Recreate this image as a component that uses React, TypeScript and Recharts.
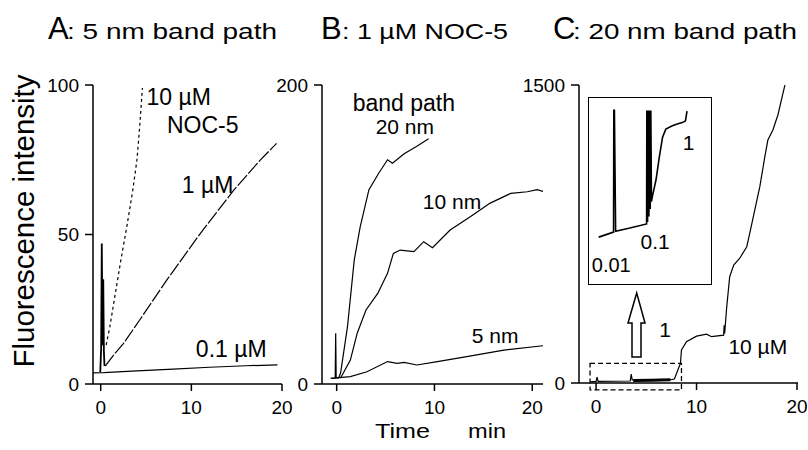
import React from "react";
import { LineChart, Line, XAxis, YAxis, ReferenceDot, ReferenceArea } from "recharts";

const FONT = "'Liberation Sans', Arial, Helvetica, sans-serif";

// ---- panel A: 5 nm band path (time in min, fluorescence a.u.)
const aTicksX = [0, 10, 20];
const aTicksY = [0, 50, 100];
const aTime01 = [-0.85, 0.3, 4, 8, 12, 16, 19.5];
const aVal01 = [3.7, 3.8, 4.4, 5.0, 5.6, 6.1, 6.4];
const aTime1 = [0.5, 1.0, 1.6, 2.5, 4.3, 7.3, 11, 14.7, 17.6, 19.4];
const aVal1 = [6, 8, 10.3, 13.5, 21.4, 34.8, 50.4, 64.9, 74.9, 80.5];
const aTime10 = [0.6, 1.0, 1.6, 2.2, 2.9, 3.5, 4.0, 4.3, 4.6];
const aVal10 = [13, 19, 30, 41, 53, 64, 75, 86, 99];
const aTimeSpike = [-0.05, 0.05, 0.12, 0.2, 0.28, 0.35, 0.42];
const aValSpike = [4, 12, 47, 13, 35, 11, 6];

// ---- panel B: 1 uM NOC-5, three band paths
const bTicksX = [0, 10, 20];
const bTicksY = [0, 200];
const bTime20 = [-0.6, -0.15, -0.1, -0.05, 0.2, 0.4, 1.1, 1.8, 2.4, 3.3, 4.3, 5.2, 5.7, 6.9, 8.2, 9.4];
const bVal20 = [3.8, 4, 34, 4, 4, 7.3, 38, 83, 105, 130, 141, 150, 147.6, 154, 159, 164];
const bTime10 = [0.4, 1.4, 2.1, 3.0, 4.2, 5.2, 5.8, 6.5, 7.9, 8.9, 9.8, 11.6, 13.7, 15.7, 17.8, 19.5, 20.5, 21.2];
const bVal10 = [4, 16, 34, 49.5, 60.6, 74, 87.4, 89.6, 88.5, 95.2, 91.2, 103, 112, 121, 127.5, 128.6, 130, 128.6];
const bTime5 = [-0.6, 1.4, 3.1, 5.2, 6.2, 6.9, 8.2, 10.3, 13.3, 17.1, 21.1];
const bVal5 = [3.8, 4.9, 8.2, 15, 13.8, 14.5, 12.7, 15, 18.3, 22.7, 25.6];

// ---- panel C: 20 nm band path, stepwise NOC-5
const cTicksX = [0, 10, 20];
const cTicksY = [0, 1500];
const cTime = [-0.5, 0, 0.1, 0.2, 3.4, 3.5, 3.6, 7.3, 7.8, 8.1, 8.4, 8.5, 9.0, 10.0, 11.0, 11.5, 12.7, 12.75, 12.8, 13.0, 13.3, 13.7, 14.3, 15.0, 15.3, 15.8, 16.3, 16.8, 17.1, 17.6, 18.1, 18.6, 18.8];
const cVal = [7, 7, 30, 8, 10, 45, 15, 15, 20, 60, 99, 166, 208, 236, 246, 233, 241, 290, 250, 380, 535, 594, 628, 686, 754, 871, 988, 1139, 1223, 1274, 1349, 1458, 1500];
const cTimeBase = [3.7, 5.5, 7.4];
const cValBase = [12, 14, 16];

// inset (its own 0-100 units)
const insetX = [8, 20.3, 20.5, 21.0, 22, 33.8, 47.6, 47.8, 48.4, 48.9, 49.5, 50.0, 50.6, 51.1, 51.6, 52.7, 55.4, 58.1, 60.8, 63.5, 68.9, 72.9, 77, 79.7, 81];
const insetY = [24.8, 27.5, 93.3, 93.3, 28, 29.7, 31.9, 93.3, 33, 93.3, 36, 93.3, 40, 93.3, 44, 47.8, 55.8, 68.1, 78.8, 83.2, 85, 85.9, 86.7, 87.6, 92.9];

const pts = (t: number[], v: number[]) => t.map((x, i) => ({ t: x, v: v[i] }));

type Series = { data: { t: number; v: number }[]; dash?: string; width?: number };
type Note = { t: number; v: number; text: string; size?: number };

const aSeries: Series[] = [
  { data: pts(aTime01, aVal01) },
  { data: pts(aTime1, aVal1), dash: "14 2" },
  { data: pts(aTime10, aVal10), dash: "3 3" },
  { data: pts(aTimeSpike, aValSpike), width: 1.8 },
];
const aNotes: Note[] = [
  { t: 8.6, v: 96.2, text: "10 \u00b5M", size: 23 },
  { t: 11.25, v: 86.6, text: "NOC-5", size: 23 },
  { t: 11.8, v: 66.6, text: "1 \u00b5M", size: 23 },
  { t: 14.4, v: 11.7, text: "0.1 \u00b5M", size: 23 },
];
const bSeries: Series[] = [
  { data: pts(bTime20, bVal20) },
  { data: pts(bTime10, bVal10) },
  { data: pts(bTime5, bVal5) },
];
const bNotes: Note[] = [
  { t: 6.87, v: 187.8, text: "band path", size: 23 },
  { t: 6.97, v: 172.1, text: "20 nm" },
  { t: 11.8, v: 121.9, text: "10 nm" },
  { t: 16.2, v: 32.1, text: "5 nm" },
];
const cSeries: Series[] = [
  { data: pts(cTime, cVal) },
  { data: pts(cTimeBase, cValBase), width: 3 },
];
const cNotes: Note[] = [
  { t: 6.87, v: 267, text: "1" },
  { t: 16.1, v: 181, text: "10 \u00b5M" },
];

const tickStyle = { fill: "#000", fontSize: 19, fontFamily: FONT };
const axisStyle = { stroke: "#000", strokeWidth: 1.5 };

function Panel(props: {
  left: number;
  width: number;
  margin: { top: number; right: number; bottom: number; left: number };
  yWidth: number;
  xDomain: [number, number];
  yDomain: [number, number];
  xTicks: number[];
  yTicks: number[];
  series: Series[];
  notes: Note[];
  children?: React.ReactNode;
}) {
  const { left, width, margin, yWidth, xDomain, yDomain, xTicks, yTicks, series, notes } = props;
  return (
    <div style={{ position: "absolute", left, top: 0 }}>
      <LineChart width={width} height={450} margin={margin}>
        <XAxis
          dataKey="t"
          type="number"
          domain={xDomain}
          ticks={xTicks}
          allowDataOverflow
          height={40}
          tick={tickStyle}
          tickSize={7}
          tickMargin={10}
          axisLine={axisStyle}
          tickLine={axisStyle}
        />
        <YAxis
          dataKey="v"
          type="number"
          domain={yDomain}
          ticks={yTicks}
          allowDataOverflow
          width={yWidth}
          tick={tickStyle}
          tickSize={8}
          tickMargin={6}
          axisLine={axisStyle}
          tickLine={axisStyle}
        />
        {props.children}
        {series.map((s, i) => (
          <Line
            key={i}
            data={s.data}
            dataKey="v"
            type="linear"
            dot={false}
            stroke="#000"
            strokeWidth={s.width ?? 1.2}
            strokeDasharray={s.dash}
            isAnimationActive={false}
          />
        ))}
        {notes.map((n, i) => (
          <ReferenceDot
            key={"n" + i}
            x={n.t}
            y={n.v}
            r={0}
            fill="none"
            stroke="none"
            ifOverflow="visible"
            label={{ value: n.text, position: "center", fill: "#000", fontSize: n.size ?? 21, fontFamily: FONT }}
          />
        ))}
      </LineChart>
    </div>
  );
}

export default function App() {
  return (
    <div style={{ position: "absolute", left: 0, top: 0, width: 808, height: 450, background: "#fff", overflow: "hidden", fontFamily: FONT }}>
      <Panel
        left={0}
        width={300}
        margin={{ top: 85, right: 18, bottom: 26, left: 48 }}
        yWidth={45}
        xDomain={[-0.85, 20]}
        yDomain={[0, 100]}
        xTicks={aTicksX}
        yTicks={aTicksY}
        series={aSeries}
        notes={aNotes}
      />
      <Panel
        left={250}
        width={300}
        margin={{ top: 85, right: 7, bottom: 26, left: 27 }}
        yWidth={45}
        xDomain={[-1.5, 21.1]}
        yDomain={[0, 200]}
        xTicks={bTicksX}
        yTicks={bTicksY}
        series={bSeries}
        notes={bNotes}
      />
      <Panel
        left={520}
        width={288}
        margin={{ top: 85, right: 10, bottom: 27, left: 4 }}
        yWidth={55}
        xDomain={[-1.7, 20.1]}
        yDomain={[0, 1500]}
        xTicks={cTicksX}
        yTicks={cTicksY}
        series={cSeries}
        notes={cNotes}
      >
        <ReferenceArea
          x1={-0.6}
          x2={8.5}
          y1={-35}
          y2={99}
          ifOverflow="visible"
          fill="none"
          stroke="#000"
          strokeWidth={1.3}
          strokeDasharray="5 3"
        />
      </Panel>

      {/* inset: expanded view of the dashed region */}
      <div style={{ position: "absolute", left: 588, top: 97, width: 124, height: 188, border: "1.5px solid #000", boxSizing: "border-box", background: "#fff" }}>
        <LineChart width={121} height={185} margin={{ top: 0, right: 0, bottom: 0, left: 0 }}>
          <XAxis dataKey="t" type="number" domain={[0, 100]} hide />
          <YAxis dataKey="v" type="number" domain={[0, 100]} hide />
          <Line
            data={pts(insetX, insetY)}
            dataKey="v"
            type="linear"
            dot={false}
            stroke="#000"
            strokeWidth={1.6}
            isAnimationActive={false}
          />
          <ReferenceDot x={82.4} y={75.7} r={0} fill="none" stroke="none" label={{ value: "1", position: "center", fill: "#000", fontSize: 21, fontFamily: FONT }} />
          <ReferenceDot x={54.7} y={22.6} r={0} fill="none" stroke="none" label={{ value: "0.1", position: "center", fill: "#000", fontSize: 21, fontFamily: FONT }} />
          <ReferenceDot x={18.4} y={9.7} r={0} fill="none" stroke="none" label={{ value: "0.01", position: "center", fill: "#000", fontSize: 20, fontFamily: FONT }} />
        </LineChart>
      </div>

      <svg width={808} height={450} style={{ position: "absolute", left: 0, top: 0, pointerEvents: "none" }}>
        <text x={48} y={39} fontSize={31} fill="#000">A</text>
        <text x={67} y={39} fontSize={22} fill="#000" textLength={210} lengthAdjust="spacingAndGlyphs">: 5 nm band path</text>
        <text x={321} y={39} fontSize={31} fill="#000">B</text>
        <text x={342} y={39} fontSize={22} fill="#000" textLength={166} lengthAdjust="spacingAndGlyphs">: 1 {"\u00b5"}M NOC-5</text>
        <text x={553} y={39} fontSize={31} fill="#000">C</text>
        <text x={573} y={39} fontSize={22} fill="#000" textLength={224} lengthAdjust="spacingAndGlyphs">: 20 nm band path</text>
        <text transform="translate(34,221) rotate(-90)" textAnchor="middle" fontSize={29} fill="#000" textLength={293} lengthAdjust="spacingAndGlyphs">
          Fluorescence intensity
        </text>
        <text x={375} y={438} fontSize={21} fill="#000" textLength={55} lengthAdjust="spacingAndGlyphs">Time</text>
        <text x={468} y={438} fontSize={21} fill="#000" textLength={38} lengthAdjust="spacingAndGlyphs">min</text>
        <polygon points="636.7,293 628,323 632,323 632,357 641,357 641,323 645,323" fill="#fff" stroke="#000" strokeWidth={1.5} />
      </svg>
    </div>
  );
}
